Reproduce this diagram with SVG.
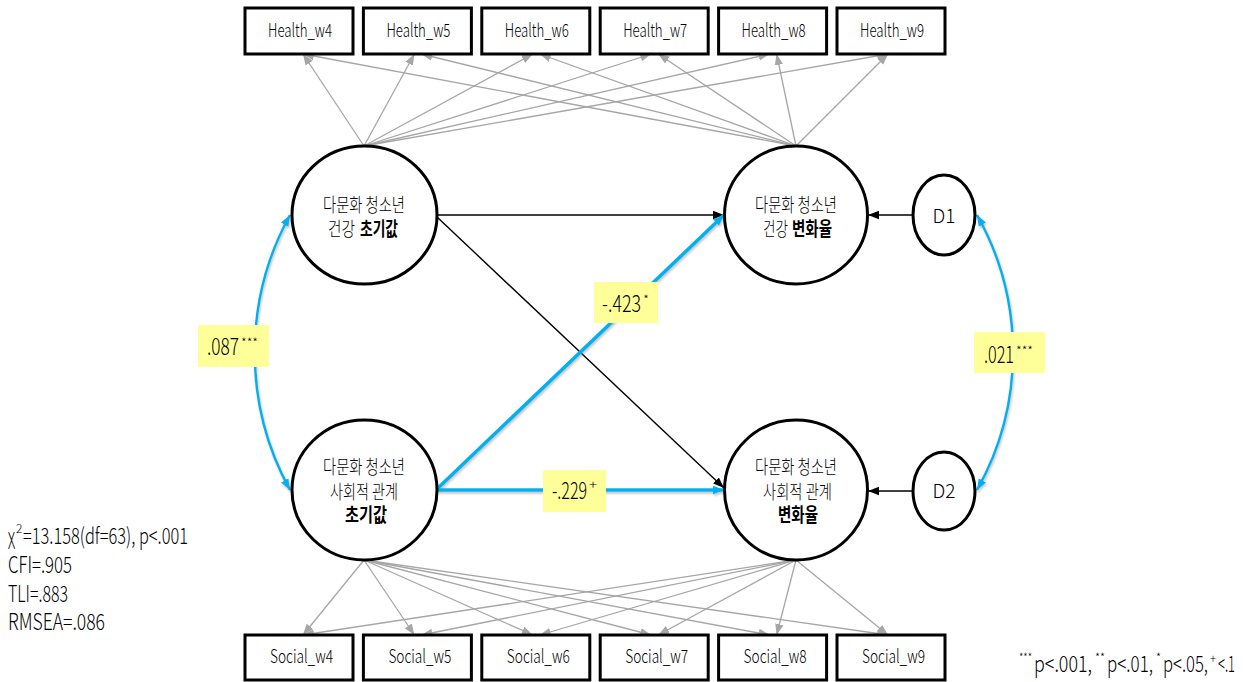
<svg xmlns="http://www.w3.org/2000/svg" width="1243" height="682" viewBox="0 0 1243 682">
<style>
  .t{font-family:"Noto Sans CJK KR","Noto Sans",sans-serif;fill:#000;}
  .box{fill:#fff;stroke:#000;stroke-width:3;}
  .lat{fill:#fff;stroke:#000;stroke-width:3;}
  .gray{stroke:#A6A6A6;stroke-width:1.3;fill:none;marker-end:url(#ag);}
  .blk{stroke:#000;stroke-width:1.4;fill:none;marker-end:url(#ab);}
  .blue{stroke:#00B0F0;stroke-width:3.5;fill:none;marker-end:url(#ablue);filter:url(#sh);}
  .cov{stroke:#00B0F0;stroke-width:2.5;fill:none;marker-end:url(#ablue2);marker-start:url(#ablue2);filter:url(#sh);}
  .lbl{fill:#FFFF99;}
  .bl{font-size:18.5px;font-weight:300;}
  .cl{font-size:19px;font-weight:300;}
  .cb{font-size:19px;font-weight:700;}
  .num{font-size:22.5px;font-weight:300;}
  .sup{font-size:12px;font-weight:300;}
</style>
<defs>
  <marker id="ag" markerUnits="userSpaceOnUse" markerWidth="12" markerHeight="10" refX="11" refY="5" orient="auto"><path d="M0,0.8 L11,5 L0,9.2 Z" fill="#A6A6A6"/></marker>
  <marker id="ab" markerUnits="userSpaceOnUse" markerWidth="12" markerHeight="10" refX="11" refY="5" orient="auto"><path d="M0,0.8 L11,5 L0,9.2 Z" fill="#000"/></marker>
  <marker id="ablue" markerUnits="userSpaceOnUse" markerWidth="12" markerHeight="10" refX="11" refY="5" orient="auto"><path d="M0,0.8 L11,5 L0,9.2 Z" fill="#00B0F0"/></marker>
  <marker id="ablue2" markerUnits="userSpaceOnUse" markerWidth="12" markerHeight="10" refX="11" refY="5" orient="auto-start-reverse"><path d="M0,0.8 L11,5 L0,9.2 Z" fill="#00B0F0"/></marker>
  <filter id="sh" filterUnits="userSpaceOnUse" x="0" y="0" width="1243" height="682"><feDropShadow dx="1" dy="2" stdDeviation="1" flood-color="#808080" flood-opacity="0.45"/></filter>
</defs>

<g id="connectors">
  <!-- top indicators -->
  <line class="gray" x1="364" y1="146" x2="303" y2="54"/>
  <line class="gray" x1="364" y1="146" x2="414.4" y2="54"/>
  <line class="gray" x1="364" y1="146" x2="532.8" y2="54"/>
  <line class="gray" x1="364" y1="146" x2="651.2" y2="54"/>
  <line class="gray" x1="364" y1="146" x2="769.6" y2="54"/>
  <line class="gray" x1="364" y1="146" x2="888" y2="54"/>
  <line class="gray" x1="796" y1="146" x2="303" y2="54"/>
  <line class="gray" x1="796" y1="146" x2="421.4" y2="54"/>
  <line class="gray" x1="796" y1="146" x2="539.8" y2="54"/>
  <line class="gray" x1="796" y1="146" x2="658.2" y2="54"/>
  <line class="gray" x1="796" y1="146" x2="776.6" y2="54"/>
  <line class="gray" x1="796" y1="146" x2="888" y2="54"/>
  <!-- bottom indicators -->
  <line class="gray" x1="364" y1="560" x2="303" y2="635"/>
  <line class="gray" x1="364" y1="560" x2="414.4" y2="635"/>
  <line class="gray" x1="364" y1="560" x2="532.8" y2="635"/>
  <line class="gray" x1="364" y1="560" x2="651.2" y2="635"/>
  <line class="gray" x1="364" y1="560" x2="769.6" y2="635"/>
  <line class="gray" x1="364" y1="560" x2="888" y2="635"/>
  <line class="gray" x1="796" y1="560" x2="303" y2="635"/>
  <line class="gray" x1="796" y1="560" x2="421.4" y2="635"/>
  <line class="gray" x1="796" y1="560" x2="539.8" y2="635"/>
  <line class="gray" x1="796" y1="560" x2="658.2" y2="635"/>
  <line class="gray" x1="796" y1="560" x2="776.6" y2="635"/>
  <line class="gray" x1="796" y1="560" x2="888" y2="635"/>
  <!-- structural paths -->
  <line class="blk" x1="437" y1="215" x2="724" y2="215"/>
  <line class="blk" x1="437" y1="217" x2="724" y2="488"/>
  <line class="blue" x1="437" y1="489" x2="724" y2="215"/>
  <line class="blue" x1="437" y1="490" x2="724" y2="490"/>
  <line class="blk" x1="913" y1="215" x2="868" y2="215"/>
  <line class="blk" x1="913" y1="491" x2="868" y2="491"/>
  <!-- covariances -->
  <path class="cov" d="M290,215 C243,300 243,405 290,490"/>
  <path class="cov" d="M977,215 C1025,300 1025,405 977,490"/>
  <!-- labels -->
  <g id="lbl-087">
    <rect class="lbl" x="198" y="325" width="71" height="42"/>
    <text class="t num" y="355"><tspan x="207" textLength="32" lengthAdjust="spacingAndGlyphs">.087</tspan><tspan class="sup" x="241" y="347" textLength="17" lengthAdjust="spacingAndGlyphs">***</tspan></text>
  </g>
  <g id="lbl-021">
    <rect class="lbl" x="974" y="332" width="71" height="41"/>
    <text class="t num" y="363"><tspan x="984" textLength="30" lengthAdjust="spacingAndGlyphs">.021</tspan><tspan class="sup" x="1016" y="355" textLength="17" lengthAdjust="spacingAndGlyphs">***</tspan></text>
  </g>
  <g id="lbl-423">
    <rect class="lbl" x="594" y="282" width="64" height="41"/>
    <text class="t num" y="312"><tspan x="602" textLength="39" lengthAdjust="spacingAndGlyphs">-.423</tspan><tspan class="sup" x="643" y="304" textLength="6" lengthAdjust="spacingAndGlyphs">*</tspan></text>
  </g>
  <g id="lbl-229">
    <rect class="lbl" x="543" y="470" width="63" height="42"/>
    <text class="t num" y="499"><tspan x="552" textLength="35" lengthAdjust="spacingAndGlyphs">-.229</tspan><tspan class="sup" x="589" y="489" textLength="8" lengthAdjust="spacingAndGlyphs">+</tspan></text>
  </g>
</g>

<g id="health-indicators">
  <g id="Health_w4"><rect class="box" x="245" y="8" width="108" height="46"/><text class="t bl" x="268" y="37" textLength="64" lengthAdjust="spacingAndGlyphs">Health_w4</text></g>
  <g id="Health_w5"><rect class="box" x="363.4" y="8" width="108" height="46"/><text class="t bl" x="386.4" y="37" textLength="64" lengthAdjust="spacingAndGlyphs">Health_w5</text></g>
  <g id="Health_w6"><rect class="box" x="481.8" y="8" width="108" height="46"/><text class="t bl" x="504.8" y="37" textLength="64" lengthAdjust="spacingAndGlyphs">Health_w6</text></g>
  <g id="Health_w7"><rect class="box" x="600.2" y="8" width="108" height="46"/><text class="t bl" x="623.2" y="37" textLength="64" lengthAdjust="spacingAndGlyphs">Health_w7</text></g>
  <g id="Health_w8"><rect class="box" x="718.6" y="8" width="108" height="46"/><text class="t bl" x="741.6" y="37" textLength="64" lengthAdjust="spacingAndGlyphs">Health_w8</text></g>
  <g id="Health_w9"><rect class="box" x="837" y="8" width="108" height="46"/><text class="t bl" x="860" y="37" textLength="64" lengthAdjust="spacingAndGlyphs">Health_w9</text></g>
</g>

<g id="social-indicators">
  <g id="Social_w4"><rect class="box" x="245" y="635" width="108" height="45"/><text class="t bl" x="270" y="663" textLength="63" lengthAdjust="spacingAndGlyphs">Social_w4</text></g>
  <g id="Social_w5"><rect class="box" x="363.4" y="635" width="108" height="45"/><text class="t bl" x="388.4" y="663" textLength="63" lengthAdjust="spacingAndGlyphs">Social_w5</text></g>
  <g id="Social_w6"><rect class="box" x="481.8" y="635" width="108" height="45"/><text class="t bl" x="506.8" y="663" textLength="63" lengthAdjust="spacingAndGlyphs">Social_w6</text></g>
  <g id="Social_w7"><rect class="box" x="600.2" y="635" width="108" height="45"/><text class="t bl" x="625.2" y="663" textLength="63" lengthAdjust="spacingAndGlyphs">Social_w7</text></g>
  <g id="Social_w8"><rect class="box" x="718.6" y="635" width="108" height="45"/><text class="t bl" x="743.6" y="663" textLength="63" lengthAdjust="spacingAndGlyphs">Social_w8</text></g>
  <g id="Social_w9"><rect class="box" x="837" y="635" width="108" height="45"/><text class="t bl" x="862" y="663" textLength="63" lengthAdjust="spacingAndGlyphs">Social_w9</text></g>
</g>

<g id="health-intercept">
  <ellipse class="lat" cx="364.5" cy="215" rx="72.5" ry="69"/>
  <text class="t cl" x="323" y="212" textLength="82" lengthAdjust="spacingAndGlyphs">다문화 청소년</text>
  <text class="t cl" y="236"><tspan x="328" textLength="27" lengthAdjust="spacingAndGlyphs">건강</tspan><tspan class="cb" x="360" textLength="38" lengthAdjust="spacingAndGlyphs">초기값</tspan></text>
</g>
<g id="health-slope">
  <ellipse class="lat" cx="796" cy="215" rx="71.5" ry="69"/>
  <text class="t cl" x="755" y="212" textLength="82" lengthAdjust="spacingAndGlyphs">다문화 청소년</text>
  <text class="t cl" y="236"><tspan x="763" textLength="25" lengthAdjust="spacingAndGlyphs">건강</tspan><tspan class="cb" x="792" textLength="40" lengthAdjust="spacingAndGlyphs">변화율</tspan></text>
</g>
<g id="social-intercept">
  <ellipse class="lat" cx="364.5" cy="490" rx="72.5" ry="70"/>
  <text class="t cl" x="323" y="474" textLength="82" lengthAdjust="spacingAndGlyphs">다문화 청소년</text>
  <text class="t cl" x="330" y="499" textLength="68" lengthAdjust="spacingAndGlyphs">사회적 관계</text>
  <text class="t cb" x="345" y="522" textLength="42" lengthAdjust="spacingAndGlyphs">초기값</text>
</g>
<g id="social-slope">
  <ellipse class="lat" cx="796" cy="490" rx="71.5" ry="70"/>
  <text class="t cl" x="755" y="474" textLength="82" lengthAdjust="spacingAndGlyphs">다문화 청소년</text>
  <text class="t cl" x="763" y="499" textLength="69" lengthAdjust="spacingAndGlyphs">사회적 관계</text>
  <text class="t cb" x="778" y="522" textLength="40" lengthAdjust="spacingAndGlyphs">변화율</text>
</g>
<g id="D1">
  <ellipse class="lat" cx="944" cy="215" rx="31" ry="40"/>
  <text class="t cl" x="944" y="223" text-anchor="middle" style="font-size:19px">D1</text>
</g>
<g id="D2">
  <ellipse class="lat" cx="944" cy="491" rx="31" ry="39"/>
  <text class="t cl" x="944" y="498" text-anchor="middle" style="font-size:19px">D2</text>
</g>

<g id="fit-stats">
  <text class="t num" y="544"><tspan x="8" textLength="7" lengthAdjust="spacingAndGlyphs">χ</tspan><tspan class="sup" x="16" y="533">2</tspan><tspan x="23" y="544" textLength="165" lengthAdjust="spacingAndGlyphs">=13.158(df=63), p&lt;.001</tspan></text>
  <text class="t num" x="8" y="573" textLength="64" lengthAdjust="spacingAndGlyphs">CFI=.905</text>
  <text class="t num" x="8" y="602" textLength="60" lengthAdjust="spacingAndGlyphs">TLI=.883</text>
  <text class="t num" x="8" y="630" textLength="97" lengthAdjust="spacingAndGlyphs">RMSEA=.086</text>
</g>

<g id="legend">
  <text class="t num" y="672"><tspan class="sup" x="1019" y="662" textLength="13" lengthAdjust="spacingAndGlyphs">***</tspan><tspan x="1034" y="672" textLength="58" lengthAdjust="spacingAndGlyphs">p&lt;.001,</tspan><tspan class="sup" x="1095" y="662" textLength="10" lengthAdjust="spacingAndGlyphs">**</tspan><tspan x="1107" y="672" textLength="46" lengthAdjust="spacingAndGlyphs">p&lt;.01,</tspan><tspan class="sup" x="1156" y="662" textLength="5" lengthAdjust="spacingAndGlyphs">*</tspan><tspan x="1163" y="672" textLength="45" lengthAdjust="spacingAndGlyphs">p&lt;.05,</tspan><tspan class="sup" x="1210" y="663" textLength="6" lengthAdjust="spacingAndGlyphs">+</tspan><tspan x="1218" y="672" textLength="17" lengthAdjust="spacingAndGlyphs">&lt;.1</tspan></text>
</g>
</svg>
